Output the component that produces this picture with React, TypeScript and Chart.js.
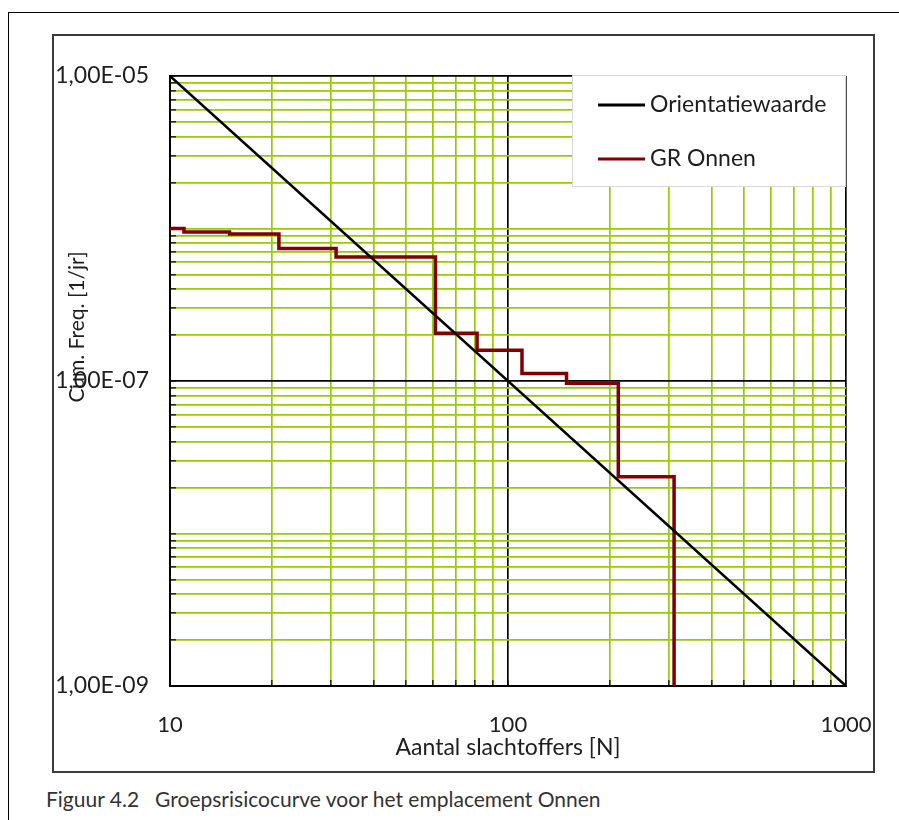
import React, { useEffect, useRef } from 'react';
import { Chart, registerables } from 'chart.js';

Chart.register(...registerables);

// ---- Data ----
const SERIES_LABELS = ['Orientatiewaarde', 'GR Onnen'];
const ORIENT_N = [10, 1000];
const ORIENT_F = [1e-5, 1e-9];
const GR_N = [10, 11, 15, 21, 31, 61, 81, 110, 149, 212, 310];
const GR_F = [1.0e-6, 9.5e-7, 9.2e-7, 7.4e-7, 6.5e-7, 2.06e-7, 1.59e-7, 1.12e-7, 9.66e-8, 2.36e-8, 1e-9];

const X_GRID = [10, 20, 30, 40, 50, 60, 70, 80, 90, 100, 200, 300, 400, 500, 600, 700, 800, 900, 1000];
const X_LABEL_VALUES = [10, 100, 1000];
const X_LABEL_TEXT = ['10', '100', '1000'];
const X_BLACK = [100, 1000];

const Y_GRID = [
  1e-9, 2e-9, 3e-9, 4e-9, 5e-9, 6e-9, 7e-9, 8e-9, 9e-9,
  1e-8, 2e-8, 3e-8, 4e-8, 5e-8, 6e-8, 7e-8, 8e-8, 9e-8,
  1e-7, 2e-7, 3e-7, 4e-7, 5e-7, 6e-7, 7e-7, 8e-7, 9e-7,
  1e-6, 2e-6, 3e-6, 4e-6, 5e-6, 6e-6, 7e-6, 8e-6, 9e-6,
  1e-5,
];
const Y_LABEL_VALUES = [1e-9, 1e-7, 1e-5];
const Y_LABEL_TEXT = ['1,00E-09', '1,00E-07', '1,00E-05'];
const Y_BLACK = [1e-7, 1e-5];

const X_TITLE = 'Aantal slachtoffers [N]';
const Y_TITLE = 'Cum. Freq. [1/jr]';
const CAPTION_NUM = 'Figuur 4.2';
const CAPTION_TEXT = 'Groepsrisicocurve voor het emplacement Onnen';

const COLORS = ['#000000', '#800000'];
const GRID_GREEN = '#99cc00';
const TEXT = '#1e1e1e';
const FONT = 'Lato, "Open Sans", sans-serif';

const near = (a: number, b: number) => Math.abs(a - b) / b < 1e-6;

const customPlugin = {
  id: 'custom',
  afterDraw(chart: any) {
    const ctx = chart.ctx;
    const ca = chart.chartArea;
    // y-axis title
    ctx.save();
    ctx.translate(23, 291);
    ctx.rotate(-Math.PI / 2);
    ctx.font = `21px ${FONT}`;
    ctx.fillStyle = TEXT;
    ctx.textAlign = 'center';
    ctx.textBaseline = 'middle';
    ctx.fillText(Y_TITLE, 0, 0);
    ctx.restore();

    // legend box
    const w = 274, h = 112;
    const left = ca.right - w;
    const top = ca.top - 1;
    ctx.save();
    ctx.fillStyle = '#ffffff';
    ctx.fillRect(left, top, w, h);
    ctx.strokeStyle = '#d9d9d9';
    ctx.lineWidth = 1;
    ctx.strokeRect(left + 0.5, top + 0.5, w - 1, h - 1);
    const rows = [30, 84];
    chart.data.datasets.forEach((ds: any, i: number) => {
      const y = top + rows[i];
      ctx.strokeStyle = ds.borderColor;
      ctx.lineWidth = 3;
      ctx.beginPath();
      ctx.moveTo(left + 26, y);
      ctx.lineTo(left + 73, y);
      ctx.stroke();
      ctx.font = `23px ${FONT}`;
      ctx.fillStyle = TEXT;
      ctx.textAlign = 'left';
      ctx.textBaseline = 'middle';
      ctx.fillText(ds.label, left + 78, y);
    });
    ctx.restore();
  },
};

export default function App() {
  const ref = useRef<HTMLCanvasElement | null>(null);

  useEffect(() => {
    if (!ref.current) return;
    const chart = new Chart(ref.current, {
      type: 'line',
      data: {
        datasets: [
          {
            label: SERIES_LABELS[0],
            data: ORIENT_N.map((n, i) => ({ x: n, y: ORIENT_F[i] })),
            borderColor: COLORS[0],
            backgroundColor: COLORS[0],
            borderWidth: 2.5,
            pointRadius: 0,
            fill: false,
          },
          {
            label: SERIES_LABELS[1],
            data: GR_N.map((n, i) => ({ x: n, y: GR_F[i] })),
            borderColor: COLORS[1],
            backgroundColor: COLORS[1],
            borderWidth: 3.5,
            pointRadius: 0,
            stepped: 'before',
            fill: false,
          },
        ],
      },
      options: {
        animation: false,
        responsive: false,
        maintainAspectRatio: false,
        layout: { padding: { top: 40, right: 27, bottom: 0, left: 0 } },
        plugins: {
          legend: { display: false },
          tooltip: { enabled: false },
        },
        scales: {
          x: {
            type: 'logarithmic',
            position: 'bottom',
            min: 10,
            max: 1000,
            afterBuildTicks: (s: any) => {
              s.ticks = X_GRID.map((v) => ({ value: v }));
            },
            afterFit: (s: any) => {
              s.height = 85;
              s.paddingLeft = 0;
              s.paddingRight = 0;
            },
            ticks: {
              autoSkip: false,
              maxRotation: 0,
              minRotation: 0,
              padding: 32,
              color: TEXT,
              font: { family: FONT, size: 22 },
              callback: (v: any) => {
                const i = X_LABEL_VALUES.findIndex((x) => near(Number(v), x));
                return i >= 0 ? X_LABEL_TEXT[i] : '';
              },
            },
            grid: {
              color: (c: any) =>
                X_BLACK.some((b) => c.tick && near(c.tick.value, b)) ? '#000000' : GRID_GREEN,
              lineWidth: 1.7,
              drawTicks: true,
              tickLength: -6,
              tickColor: '#000000',
              tickWidth: 1.2,
            },
            border: { color: '#000000', width: 2 },
            title: {
              display: true,
              text: X_TITLE,
              color: TEXT,
              font: { family: FONT, size: 23 },
              padding: { top: 0, bottom: 10 },
            },
          },
          y: {
            type: 'logarithmic',
            position: 'left',
            min: 1e-9,
            max: 1e-5,
            afterBuildTicks: (s: any) => {
              s.ticks = Y_GRID.map((v) => ({ value: v }));
            },
            afterFit: (s: any) => {
              s.width = 116;
              s.paddingTop = 0;
              s.paddingBottom = 0;
            },
            ticks: {
              autoSkip: false,
              padding: 27,
              color: TEXT,
              font: { family: FONT, size: 23 },
              callback: (v: any) => {
                const i = Y_LABEL_VALUES.findIndex((y) => near(Number(v), y));
                return i >= 0 ? Y_LABEL_TEXT[i] : '';
              },
            },
            grid: {
              color: (c: any) =>
                Y_BLACK.some((b) => c.tick && near(c.tick.value, b)) ? '#000000' : GRID_GREEN,
              lineWidth: 1.7,
              drawTicks: true,
              tickLength: -6,
              tickColor: '#000000',
              tickWidth: 1.2,
            },
            border: { color: '#000000', width: 2 },
          },
        },
      } as any,
      plugins: [customPlugin],
    });
    return () => chart.destroy();
  }, []);

  return (
    <div
      style={{
        position: 'absolute',
        left: 0,
        top: 0,
        width: 899,
        height: 820,
        background: '#ffffff',
        overflow: 'hidden',
      }}
    >
      <div
        style={{
          position: 'absolute',
          left: 8,
          top: 12,
          width: 900,
          height: 820,
          borderTop: '1.5px solid #000',
          borderLeft: '1.5px solid #000',
          boxSizing: 'border-box',
        }}
      />
      <div
        style={{
          position: 'absolute',
          left: 52,
          top: 34,
          width: 823,
          height: 739,
          border: '2px solid #3a3a3a',
          boxSizing: 'border-box',
        }}
      />
      <canvas
        ref={ref}
        width={819}
        height={735}
        style={{ position: 'absolute', left: 54, top: 36, width: 819, height: 735 }}
      />
      <div
        style={{
          position: 'absolute',
          left: 46,
          top: 786,
          fontFamily: FONT,
          fontSize: 21,
          color: '#333333',
          whiteSpace: 'nowrap',
        }}
      >
        <span>{CAPTION_NUM}</span>
        <span style={{ marginLeft: 16 }}>{CAPTION_TEXT}</span>
      </div>
    </div>
  );
}
